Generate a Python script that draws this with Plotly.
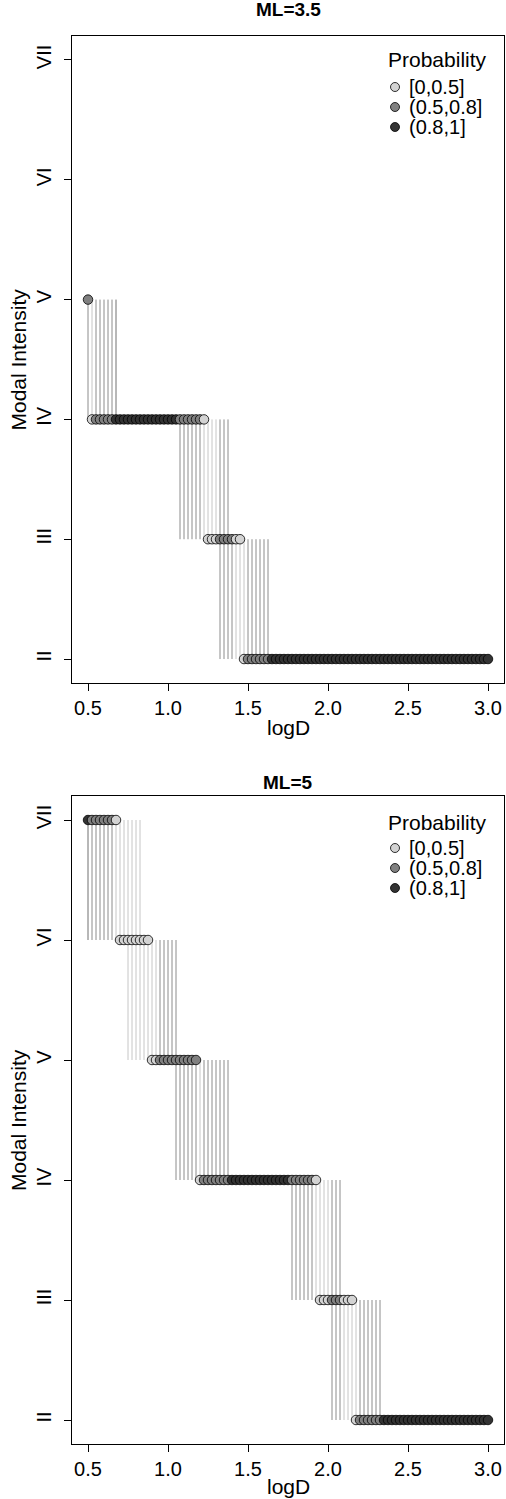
import plotly.graph_objects as go

W, H = 506, 1499

# ---------------- data ----------------
logD = [0.5, 0.525, 0.55, 0.575, 0.6, 0.625, 0.65, 0.675, 0.7, 0.725,
        0.75, 0.775, 0.8, 0.825, 0.85, 0.875, 0.9, 0.925, 0.95, 0.975,
        1.0, 1.025, 1.05, 1.075, 1.1, 1.125, 1.15, 1.175, 1.2, 1.225,
        1.25, 1.275, 1.3, 1.325, 1.35, 1.375, 1.4, 1.425, 1.45, 1.475,
        1.5, 1.525, 1.55, 1.575, 1.6, 1.625, 1.65, 1.675, 1.7, 1.725,
        1.75, 1.775, 1.8, 1.825, 1.85, 1.875, 1.9, 1.925, 1.95, 1.975,
        2.0, 2.025, 2.05, 2.075, 2.1, 2.125, 2.15, 2.175, 2.2, 2.225,
        2.25, 2.275, 2.3, 2.325, 2.35, 2.375, 2.4, 2.425, 2.45, 2.475,
        2.5, 2.525, 2.55, 2.575, 2.6, 2.625, 2.65, 2.675, 2.7, 2.725,
        2.75, 2.775, 2.8, 2.825, 2.85, 2.875, 2.9, 2.925, 2.95, 2.975,
        3.0]

# ML = 3.5 : modal intensity, probability class (0,1,2), line low / high intensity
mi_ml35 = [5, 4, 4, 4, 4, 4, 4, 4, 4, 4, 4, 4, 4, 4, 4, 4, 4, 4, 4, 4,
           4, 4, 4, 4, 4, 4, 4, 4, 4, 4, 3, 3, 3, 3, 3, 3, 3, 3, 3, 2,
           2, 2, 2, 2, 2, 2, 2, 2, 2, 2, 2, 2, 2, 2, 2, 2, 2, 2, 2, 2,
           2, 2, 2, 2, 2, 2, 2, 2, 2, 2, 2, 2, 2, 2, 2, 2, 2, 2, 2, 2,
           2, 2, 2, 2, 2, 2, 2, 2, 2, 2, 2, 2, 2, 2, 2, 2, 2, 2, 2, 2,
           2]
cls_ml35 = [1, 0, 1, 1, 1, 1, 1, 2, 2, 2, 2, 2, 2, 2, 2, 2, 2, 2, 2, 2,
            2, 2, 2, 1, 1, 1, 1, 1, 1, 0, 0, 0, 0, 1, 1, 1, 1, 0, 0, 0,
            1, 1, 1, 1, 1, 1, 2, 2, 2, 2, 2, 2, 2, 2, 2, 2, 2, 2, 2, 2,
            2, 2, 2, 2, 2, 2, 2, 2, 2, 2, 2, 2, 2, 2, 2, 2, 2, 2, 2, 2,
            2, 2, 2, 2, 2, 2, 2, 2, 2, 2, 2, 2, 2, 2, 2, 2, 2, 2, 2, 2,
            2]
N = None
lo_ml35 = [4, 4, 4, 4, 4, 4, 4, 4, N, N, N, N, N, N, N, N, N, N, N, N,
           N, N, N, 3, 3, 3, 3, 3, 3, 3, 3, 3, 3, 2, 2, 2, 2, 2, 2, 2,
           2, 2, 2, 2, 2, 2, N, N, N, N, N, N, N, N, N, N, N, N, N, N,
           N, N, N, N, N, N, N, N, N, N, N, N, N, N, N, N, N, N, N, N,
           N, N, N, N, N, N, N, N, N, N, N, N, N, N, N, N, N, N, N, N,
           N]
hi_ml35 = [5, 5, 5, 5, 5, 5, 5, 5, N, N, N, N, N, N, N, N, N, N, N, N,
           N, N, N, 4, 4, 4, 4, 4, 4, 4, 4, 4, 4, 4, 4, 4, 3, 3, 3, 3,
           3, 3, 3, 3, 3, 3, N, N, N, N, N, N, N, N, N, N, N, N, N, N,
           N, N, N, N, N, N, N, N, N, N, N, N, N, N, N, N, N, N, N, N,
           N, N, N, N, N, N, N, N, N, N, N, N, N, N, N, N, N, N, N, N,
           N]

# ML = 5
mi_ml5 = [7, 7, 7, 7, 7, 7, 7, 7, 6, 6, 6, 6, 6, 6, 6, 6, 5, 5, 5, 5,
          5, 5, 5, 5, 5, 5, 5, 5, 4, 4, 4, 4, 4, 4, 4, 4, 4, 4, 4, 4,
          4, 4, 4, 4, 4, 4, 4, 4, 4, 4, 4, 4, 4, 4, 4, 4, 4, 4, 3, 3,
          3, 3, 3, 3, 3, 3, 3, 2, 2, 2, 2, 2, 2, 2, 2, 2, 2, 2, 2, 2,
          2, 2, 2, 2, 2, 2, 2, 2, 2, 2, 2, 2, 2, 2, 2, 2, 2, 2, 2, 2,
          2]
cls_ml5 = [2, 1, 1, 1, 1, 1, 1, 0, 0, 0, 0, 0, 0, 0, 0, 0, 0, 0, 1, 1,
           1, 1, 1, 1, 1, 1, 1, 1, 0, 1, 1, 1, 1, 1, 1, 1, 2, 2, 2, 2,
           2, 2, 2, 2, 2, 2, 2, 2, 2, 2, 2, 1, 1, 1, 1, 1, 1, 0, 0, 0,
           0, 1, 1, 1, 0, 0, 0, 0, 1, 1, 1, 1, 1, 1, 2, 2, 2, 2, 2, 2,
           2, 2, 2, 2, 2, 2, 2, 2, 2, 2, 2, 2, 2, 2, 2, 2, 2, 2, 2, 2,
           2]
lo_ml5 = [6, 6, 6, 6, 6, 6, 6, 6, 6, 6, 5, 5, 5, 5, 5, 5, 5, 5, 5, 5,
          5, 5, 4, 4, 4, 4, 4, 4, 4, 4, 4, 4, 4, 4, 4, 4, N, N, N, N,
          N, N, N, N, N, N, N, N, N, N, N, 3, 3, 3, 3, 3, 3, 3, 3, 3,
          3, 2, 2, 2, 2, 2, 2, 2, 2, 2, 2, 2, 2, 2, N, N, N, N, N, N,
          N, N, N, N, N, N, N, N, N, N, N, N, N, N, N, N, N, N, N, N,
          N]
hi_ml5 = [7, 7, 7, 7, 7, 7, 7, 7, 7, 7, 7, 7, 7, 7, 6, 6, 6, 6, 6, 6,
          6, 6, 6, 5, 5, 5, 5, 5, 5, 5, 5, 5, 5, 5, 5, 5, N, N, N, N,
          N, N, N, N, N, N, N, N, N, N, N, 4, 4, 4, 4, 4, 4, 4, 4, 4,
          4, 4, 4, 4, 3, 3, 3, 3, 3, 3, 3, 3, 3, 3, N, N, N, N, N, N,
          N, N, N, N, N, N, N, N, N, N, N, N, N, N, N, N, N, N, N, N,
          N]

panel_titles = ["ML=3.5", "ML=5"]
intensity_values = [2, 3, 4, 5, 6, 7]
intensity_labels = ["II", "III", "IV", "V", "VI", "VII"]
x_tick_values = [0.5, 1.0, 1.5, 2.0, 2.5, 3.0]
x_tick_labels = ["0.5", "1.0", "1.5", "2.0", "2.5", "3.0"]
class_labels = ["[0,0.5]", "(0.5,0.8]", "(0.8,1]"]

# ---------------- styles ----------------
FONT = "Liberation Sans, Arial, Helvetica, sans-serif"
class_fill = ["#D3D3D3", "#808080", "#333333"]
line_color = ["#c6c6c6", "#8c8c8c", "#707070"]
FS_TICK = 20
FS_TEXT = 20

panels = [
    dict(title=panel_titles[0], mi=mi_ml35, cls=cls_ml35, lo=lo_ml35, hi=hi_ml35,
         box=(36, 683), title_y=10, xlab_y=727, leg_title_y=60, leg_y=[87, 107, 127]),
    dict(title=panel_titles[1], mi=mi_ml5, cls=cls_ml5, lo=lo_ml5, hi=hi_ml5,
         box=(796, 1444), title_y=782, xlab_y=1486, leg_title_y=822, leg_y=[848, 868, 888]),
]
BOX_X = (72, 504)


def px(xp):
    return xp / W


def py(yp):
    return 1 - yp / H


fig = go.Figure()
annotations = []
shapes = []

for k, p in enumerate(panels):
    sfx = "" if k == 0 else str(k + 1)
    xa, ya = "x" + sfx, "y" + sfx
    # vertical range lines, one trace per probability class
    for c in range(3):
        xs, ys = [], []
        for i, xv in enumerate(logD):
            if p["lo"][i] is not None and p["cls"][i] == c:
                xs += [xv, xv, None]
                ys += [p["lo"][i], p["hi"][i], None]
        fig.add_trace(go.Scatter(x=xs, y=ys, mode="lines", xaxis=xa, yaxis=ya,
                                 line=dict(color=line_color[c], width=1),
                                 showlegend=False, hoverinfo="skip"))
    # points
    fig.add_trace(go.Scatter(
        x=logD, y=p["mi"], mode="markers", xaxis=xa, yaxis=ya, showlegend=False,
        marker=dict(size=9.5, color=[class_fill[c] for c in p["cls"]],
                    line=dict(color="black", width=0.8))))

    y0, y1 = p["box"]
    common = dict(showline=True, mirror=True, linecolor="black", linewidth=1,
                  ticks="outside", ticklen=7, tickwidth=1, tickcolor="black",
                  showgrid=False, zeroline=False,
                  tickfont=dict(family=FONT, size=FS_TICK, color="black"))
    fig.layout["xaxis" + sfx] = dict(domain=[px(BOX_X[0]), px(BOX_X[1])], range=[0.4, 3.1],
                                      tickvals=x_tick_values, ticktext=x_tick_labels,
                                      anchor=ya, **common)
    fig.layout["yaxis" + sfx] = dict(domain=[py(y1), py(y0)], range=[1.8, 7.2],
                                      tickvals=intensity_values, ticktext=intensity_labels,
                                      tickangle=-90, anchor=xa, ticklabelstandoff=5, **common)

    cx = (BOX_X[0] + BOX_X[1]) / 2
    annotations.append(dict(text="<b>%s</b>" % p["title"], x=px(cx), y=py(p["title_y"]),
                            xref="paper", yref="paper", showarrow=False,
                            font=dict(family=FONT, size=19, color="black"),
                            xanchor="center", yanchor="middle"))
    annotations.append(dict(text="logD", x=px(cx), y=py(p["xlab_y"]),
                            xref="paper", yref="paper", showarrow=False,
                            font=dict(family=FONT, size=21, color="black"),
                            xanchor="center", yanchor="middle"))
    annotations.append(dict(text="Modal Intensity", x=px(18), y=py((y0 + y1) / 2),
                            xref="paper", yref="paper", showarrow=False, textangle=-90,
                            font=dict(family=FONT, size=21, color="black"),
                            xanchor="center", yanchor="middle"))
    # legend
    annotations.append(dict(text="Probability", x=px(386), y=py(p["leg_title_y"]),
                            xref="paper", yref="paper", showarrow=False,
                            font=dict(family=FONT, size=21, color="black"),
                            xanchor="left", yanchor="middle"))
    for c in range(3):
        yy = p["leg_y"][c]
        shapes.append(dict(type="circle", xref="paper", yref="paper",
                           xsizemode="pixel", ysizemode="pixel",
                           xanchor=px(395), yanchor=py(yy),
                           x0=-4.5, x1=4.5, y0=-4.5, y1=4.5,
                           fillcolor=class_fill[c], line=dict(color="black", width=0.8)))
        annotations.append(dict(text=class_labels[c], x=px(407), y=py(yy),
                                xref="paper", yref="paper", showarrow=False,
                                font=dict(family=FONT, size=FS_TEXT, color="black"),
                                xanchor="left", yanchor="middle"))

fig.update_layout(width=W, height=H, margin=dict(l=0, r=0, t=0, b=0),
                  paper_bgcolor="white", plot_bgcolor="white",
                  annotations=annotations, shapes=shapes, showlegend=False)

fig.write_html("out.html", config={"displayModeBar": False},
               post_script="document.body.style.margin='0';"
                           "document.body.style.overflow='hidden';"
                           "document.documentElement.style.overflow='hidden';")
